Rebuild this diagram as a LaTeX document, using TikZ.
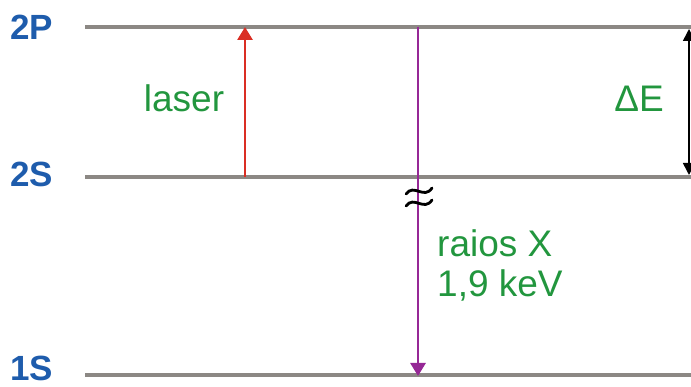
\documentclass[tikz,border=0pt]{standalone}
\usepackage{fontspec}
\setmainfont{Liberation Sans}
\usetikzlibrary{arrows.meta}
\definecolor{levelgray}{RGB}{140,136,132}
\definecolor{levelblue}{RGB}{30,92,172}
\definecolor{txtgreen}{RGB}{34,150,62}
\definecolor{laserred}{RGB}{218,46,36}
\definecolor{xraypurple}{RGB}{150,40,150}
\tikzset{
  level/.style={draw=levelgray, line width=3.4pt},
  levellabel/.style={anchor=base west, inner sep=0pt, text=levelblue,
    font=\fontsize{35}{35}\selectfont\bfseries},
  greenlabel/.style={inner sep=0pt, text=txtgreen,
    font=\fontsize{37}{37}\selectfont},
  transition/.style={line width=2.8pt,
    -{Triangle[width=15pt,length=13pt]}},
  breakmark/.style={line width=2.8pt, line cap=round},
}
\begin{document}
\begin{tikzpicture}[x=1pt,y=-1pt]
  \useasboundingbox (0,0) rectangle (691,387);

  % energy levels
  \coordinate (p2a) at (85,27);  \coordinate (p2b) at (691,27);
  \coordinate (s2a) at (85,177); \coordinate (s2b) at (691,177);
  \coordinate (s1a) at (85,375); \coordinate (s1b) at (691,375);
  \draw[level] (p2a) -- (p2b);
  \draw[level] (s2a) -- (s2b);
  \draw[level] (s1a) -- (s1b);

  % level names
  \node[levellabel] (l2p) at (10,40) {2P};
  \node[levellabel] (l2s) at (10,187) {2S};
  \node[levellabel] (l1s) at (10,381) {1S};

  % laser excitation 2S -> 2P
  \coordinate (lasbot) at (245,177);
  \coordinate (lastop) at (245,27);
  \draw[transition, draw=laserred, fill=laserred] (lasbot) -- (lastop);
  \node[greenlabel, anchor=base] (laser) at (184,112) {laser};

  % x-ray decay 2P -> 1S
  \coordinate (xtop) at (418,27);
  \coordinate (xbot) at (418,376);
  \draw[transition, draw=xraypurple, fill=xraypurple] (xtop) -- (xbot);
  \node[greenlabel, anchor=base west] (raios) at (437,257) {raios X};
  \node[greenlabel, anchor=base west] (kev) at (437,297) {1,9 keV};

  % axis-break mark on the decay arrow
  \draw[breakmark]
    (406,194) .. controls (414,183) and (424,200) .. (432,188);
  \draw[breakmark]
    (406,206) .. controls (414,195) and (424,212) .. (432,200);

  % energy gap between 2S and 2P
  \coordinate (detop) at (689,29);
  \coordinate (debot) at (689,175);
  \draw[line width=1.6pt, {Triangle[width=12pt,length=12pt]}-{Triangle[width=12pt,length=12pt]}]
    (detop) -- (debot);
  \node[greenlabel, anchor=base] (de) at (639,112) {ΔE};
\end{tikzpicture}
\end{document}
